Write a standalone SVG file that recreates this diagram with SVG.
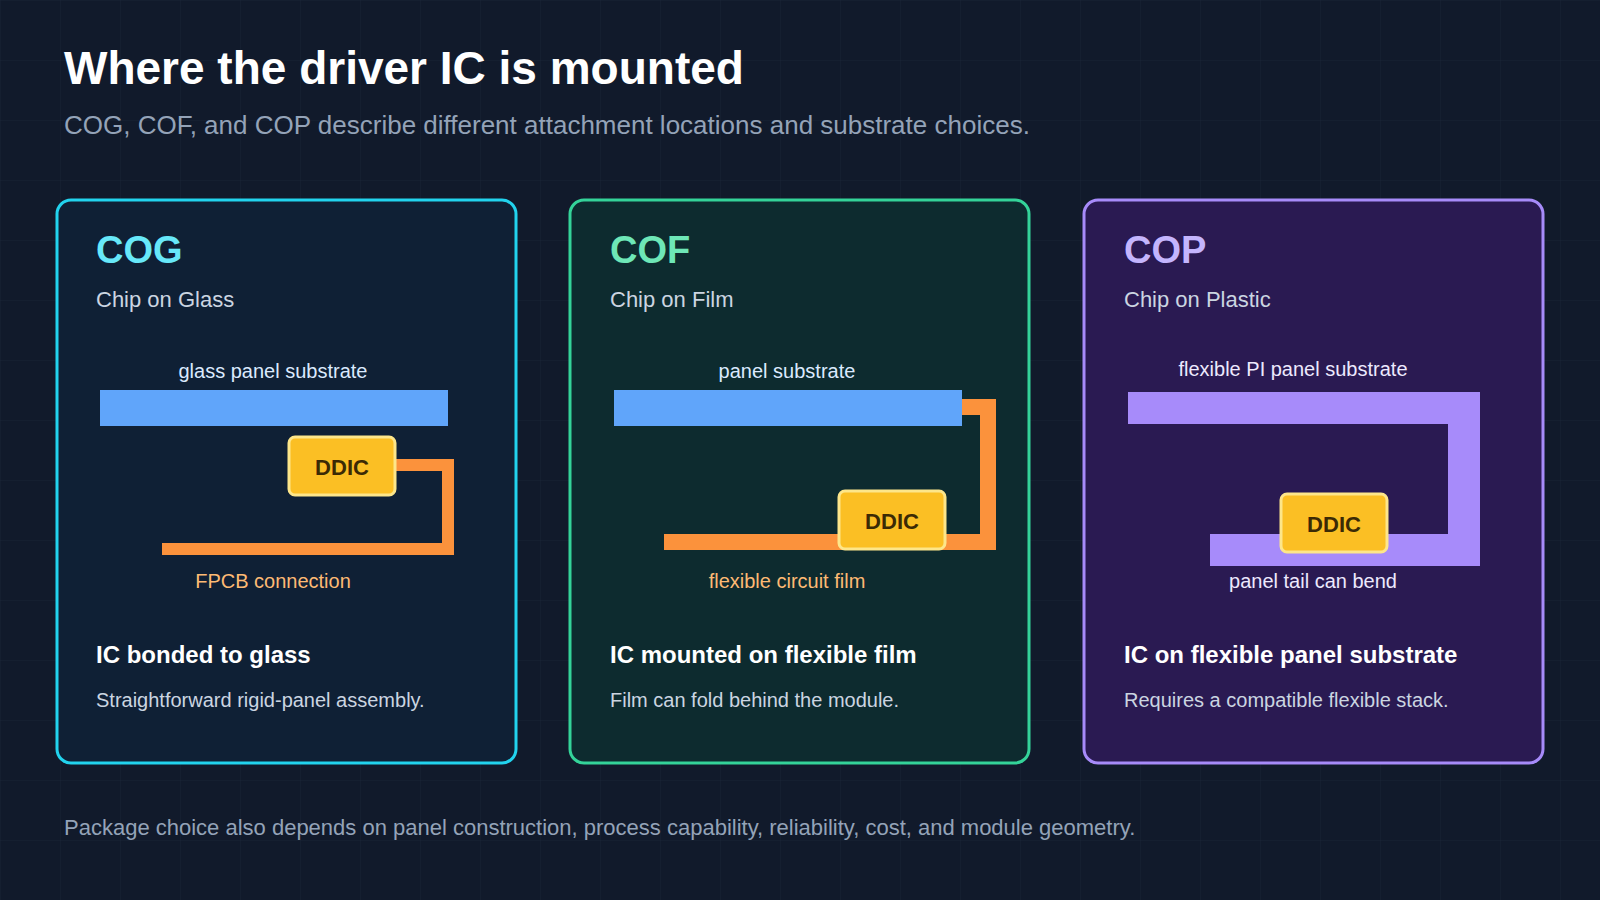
<svg xmlns="http://www.w3.org/2000/svg" width="1600" height="900" viewBox="0 0 1600 900">
<defs>
<pattern id="grid" width="60" height="60" patternUnits="userSpaceOnUse"><path d="M60 0H0V60" fill="none" stroke="#1a2436" stroke-width="1"/></pattern>
</defs>
<style>
text{font-family:"Liberation Sans",Arial,sans-serif}
.h{font-size:38px;font-weight:bold}
.sub{font-size:22px;fill:#cbd5e1}
.lbl{font-size:20px;text-anchor:middle}
.t{font-size:24px;font-weight:bold;fill:#fff}
.d{font-size:20px;fill:#cbd5e1}
.chip rect{fill:#fbbf24;stroke:#fde68a;stroke-width:3}
.chip text{font-size:22px;font-weight:bold;fill:#3b2a05;text-anchor:middle}
</style>
<rect width="1600" height="900" fill="#111a2b"/>
<rect width="1600" height="900" fill="url(#grid)"/>
<text x="64" y="84" font-size="46" font-weight="bold" fill="#fff">Where the driver IC is mounted</text>
<text x="64" y="134" font-size="26" fill="#94a3b8">COG, COF, and COP describe different attachment locations and substrate choices.</text>

<g id="cog">
<rect x="57" y="200" width="459" height="563" rx="14" fill="#0f2035" stroke="#22d3ee" stroke-width="3"/>
<text class="h" x="96" y="263" fill="#67e8f9">COG</text>
<text class="sub" x="96" y="307">Chip on Glass</text>
<text class="lbl" x="273" y="378" fill="#dbeafe">glass panel substrate</text>
<rect x="100" y="390" width="348" height="36" fill="#60a5fa"/>
<polyline points="390,465 448,465 448,549 162,549" fill="none" stroke="#fb923c" stroke-width="12"/>
<g class="chip"><rect x="289" y="437" width="106" height="58" rx="6"/><text x="342" y="475">DDIC</text></g>
<text class="lbl" x="273" y="588" fill="#fdba74">FPCB connection</text>
<text class="t" x="96" y="663">IC bonded to glass</text>
<text class="d" x="96" y="707">Straightforward rigid-panel assembly.</text>
</g>

<g id="cof">
<rect x="570" y="200" width="459" height="563" rx="14" fill="#0d2b2f" stroke="#34d399" stroke-width="3"/>
<text class="h" x="610" y="263" fill="#6ee7b7">COF</text>
<text class="sub" x="610" y="307">Chip on Film</text>
<text class="lbl" x="787" y="378" fill="#dbeafe">panel substrate</text>
<polyline points="955,407 988,407 988,542 664,542" fill="none" stroke="#fb923c" stroke-width="16"/>
<rect x="614" y="390" width="348" height="36" fill="#60a5fa"/>
<g class="chip"><rect x="839" y="491" width="106" height="58" rx="6"/><text x="892" y="529">DDIC</text></g>
<text class="lbl" x="787" y="588" fill="#fdba74">flexible circuit film</text>
<text class="t" x="610" y="663">IC mounted on flexible film</text>
<text class="d" x="610" y="707">Film can fold behind the module.</text>
</g>

<g id="cop">
<rect x="1084" y="200" width="459" height="563" rx="14" fill="#2a1a52" stroke="#a78bfa" stroke-width="3"/>
<text class="h" x="1124" y="263" fill="#c4b5fd">COP</text>
<text class="sub" x="1124" y="307">Chip on Plastic</text>
<text class="lbl" x="1293" y="376" fill="#ede9fe">flexible PI panel substrate</text>
<polyline points="1128,408 1464,408 1464,550 1210,550" fill="none" stroke="#a78bfa" stroke-width="32"/>
<g class="chip"><rect x="1281" y="494" width="106" height="58" rx="6"/><text x="1334" y="532">DDIC</text></g>
<text class="lbl" x="1313" y="588" fill="#ede9fe">panel tail can bend</text>
<text class="t" x="1124" y="663">IC on flexible panel substrate</text>
<text class="d" x="1124" y="707">Requires a compatible flexible stack.</text>
</g>
<g id="connectors"/>
<text x="64" y="835" font-size="22" fill="#94a3b8">Package choice also depends on panel construction, process capability, reliability, cost, and module geometry.</text>
</svg>
